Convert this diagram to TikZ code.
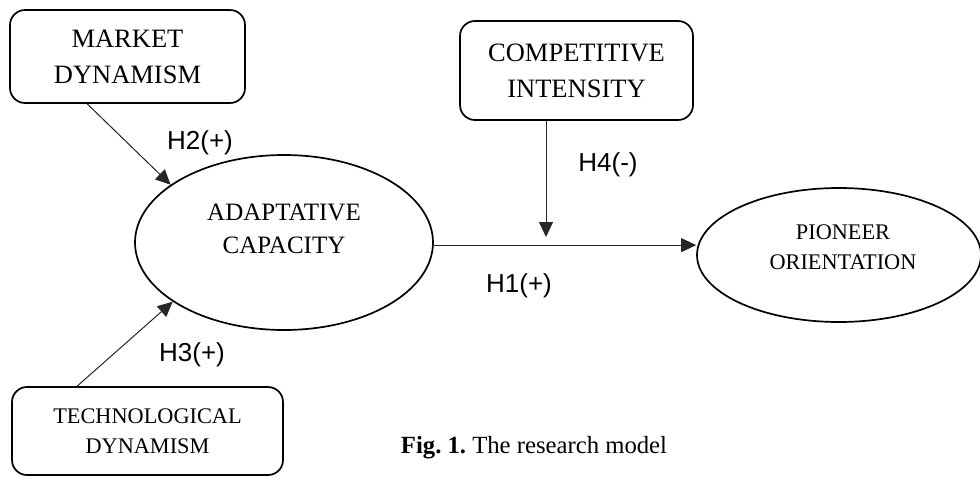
\documentclass[tikz,border=0pt]{standalone}
\usepackage{fontspec}
\setmainfont{Liberation Serif}
\newfontfamily\labfont{Liberation Sans}
\usetikzlibrary{shapes.geometric,arrows.meta}
\frenchspacing
\begin{document}
\begin{tikzpicture}[x=1pt,y=-1pt,
  box/.style={draw, line width=1.7pt, rounded corners=15pt, inner sep=0pt},
  oval/.style={draw, ellipse, line width=1.7pt, inner sep=0pt},
  big/.style={font=\fontsize{26.5}{36}\selectfont, align=center},
  small/.style={font=\fontsize{22.3}{30}\selectfont, align=center},
  lab/.style={font=\labfont\fontsize{26}{30}\selectfont},
  arr/.style={draw=black!85, line width=1pt, -{Triangle[length=15pt,width=14pt]}}]
\useasboundingbox (0,0) rectangle (980,477);
% boxes
\node[box, minimum width=235pt, minimum height=93pt] (mk) at (127.5,56.5) {};
\node[big] (mkt) at (mk.center) {MARKET\\DYNAMISM};
\node[box, minimum width=233pt, minimum height=99pt] (ci) at (576.5,70.5) {};
\node[big] (cit) at (ci.center) {COMPETITIVE\\INTENSITY};
\node[box, minimum width=271pt, minimum height=88pt] (tb) at (147.5,431) {};
\node[small] (tbt) at (tb.center) {TECHNOLOGICAL\\DYNAMISM};
% ellipses
\node[oval, minimum width=298pt, minimum height=175pt] (ac) at (284,242.5) {};
\node[font=\fontsize{25}{33}\selectfont, align=center] (act) at (284,229) {ADAPTATIVE\\CAPACITY};
\node[oval, minimum width=284pt, minimum height=134pt] (po) at (839,255) {};
\node[small] (pot) at (843,247) {PIONEER\\ORIENTATION};
% connectors
\coordinate (h4end) at (546,237);
\draw[arr] ([xshift=78pt]mk.south west) -- (ac.153.6);
\draw[arr] ([xshift=66pt]tb.north west) -- (ac.208.6);
\draw[arr] (ac.-1.7) -- (ac.-1.7 -| po.west);
\draw[arr] (ci.south -| h4end) -- (h4end);
% labels
\node[lab] (h2) at (200,143) {H2(+)};
\node[lab] (h3) at (192,355) {H3(+)};
\node[lab] (h4) at (608,165) {H4(-)};
\node[lab] (h1) at (519,286) {H1(+)};
\node[font=\fontsize{24.7}{30}\selectfont] (cap) at (534,448) {\textbf{Fig. 1.} The research model};
\end{tikzpicture}
\end{document}
